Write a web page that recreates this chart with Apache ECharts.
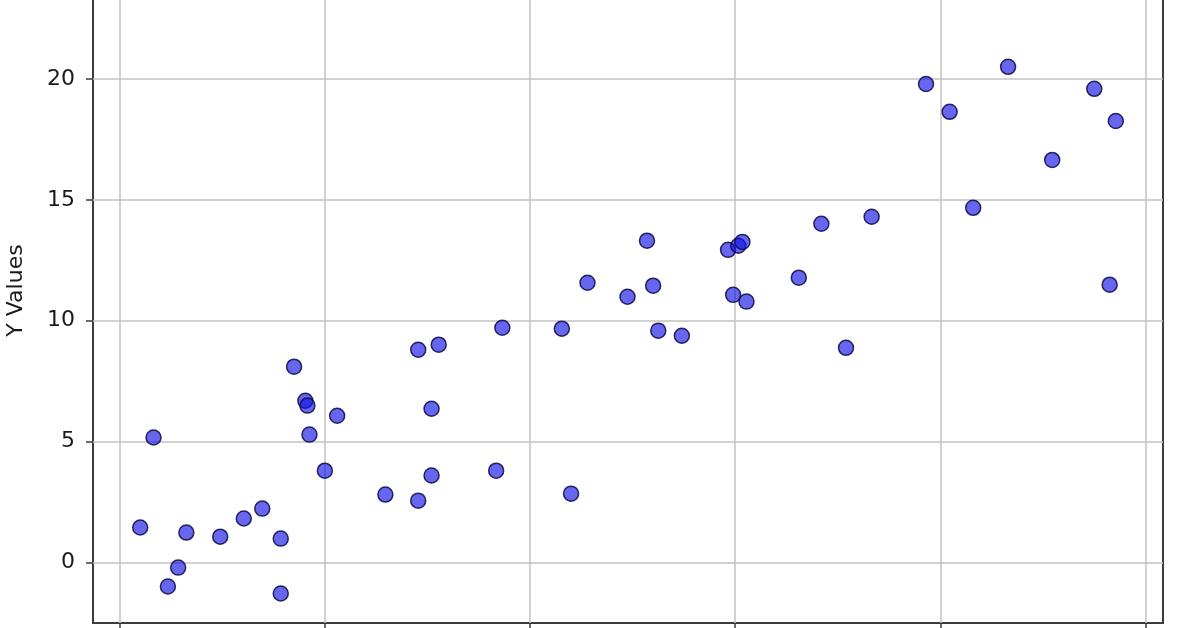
<!DOCTYPE html>
<html>
<head>
<meta charset="utf-8">
<script src="https://cdn.jsdelivr.net/npm/echarts@6/dist/echarts.min.js"></script>
<style>
  html, body { margin: 0; padding: 0; background: #fff; }
  #chart { width: 1196px; height: 628px; }
</style>
</head>
<body>
<div id="chart"></div>
<script>
// datos (x, y)
const xValues = [
  0.20, 0.33, 0.47, 0.57, 0.65, 0.98, 1.21, 1.39, 1.57, 1.57,
  1.70, 1.81, 1.83, 1.85, 2.00, 2.12, 2.59, 2.91, 2.91, 3.04,
  3.04, 3.11, 3.67, 3.73, 4.31, 4.40, 4.56, 4.95, 5.14, 5.20,
  5.25, 5.48, 5.93, 5.98, 6.03, 6.07, 6.11, 6.62, 6.84, 7.08,
  7.33, 7.86, 8.09, 8.32, 8.66, 9.09, 9.50, 9.65, 9.71
];
const yValues = [
  1.45, 5.17, -0.99, -0.21, 1.24, 1.07, 1.82, 2.23, 0.99, -1.28,
  8.10, 6.69, 6.49, 5.29, 3.80, 6.07, 2.81, 8.80, 2.56, 6.36,
  3.60, 9.01, 3.80, 9.71, 9.67, 2.85, 11.57, 10.99, 13.31, 11.45,
  9.59, 9.38, 12.93, 11.07, 13.10, 13.26, 10.79, 11.78, 14.01, 8.88,
  14.30, 19.79, 18.64, 14.67, 20.50, 16.65, 19.59, 11.49, 18.26
];
const xTicks = [0, 2, 4, 6, 8, 10];
const yTicks = [0, 5, 10, 15, 20];

const points = xValues.map((x, i) => [x, yValues[i]]);

const chart = echarts.init(document.getElementById("chart"));

const font = "DejaVu Sans";
const tickStyle = { color: "#3c3c3c", width: 1.5 };
const gridLine = { lineStyle: { color: "#c2c2c2", width: 1.5 } };

chart.setOption({
  animation: false,
  grid: {
    left: 93,
    right: 33,
    top: -42,
    bottom: 5,
    outerBoundsMode: "none",
    show: true,
    borderColor: "#3c3c3c",
    borderWidth: 2,
  },
  xAxis: {
    type: "value",
    min: -0.26,
    max: 10.17,
    name: "X Values",
    nameLocation: "middle",
    nameGap: 44,
    nameTextStyle: { fontFamily: font, fontSize: 22, color: "#1a1a1a" },
    axisLine: { show: false, onZero: false },
    axisTick: { customValues: xTicks, length: 7, lineStyle: tickStyle },
    axisLabel: {
      customValues: xTicks,
      margin: 14,
      fontFamily: font,
      fontSize: 22,
      color: "#1a1a1a",
    },
    splitLine: gridLine,
  },
  yAxis: {
    type: "value",
    min: -2.5,
    max: 25,
    name: "Y Values",
    nameLocation: "middle",
    nameRotate: 90,
    nameGap: 66,
    nameTextStyle: { fontFamily: font, fontSize: 22, color: "#1a1a1a" },
    axisLine: { show: false, onZero: false },
    axisTick: { customValues: yTicks, length: 7, lineStyle: tickStyle },
    axisLabel: {
      customValues: yTicks,
      margin: 18,
      fontFamily: font,
      fontSize: 22,
      color: "#1a1a1a",
    },
    splitLine: gridLine,
  },
  series: [
    {
      type: "scatter",
      data: points,
      symbolSize: 15,
      itemStyle: {
        color: "rgba(20, 20, 230, 0.65)",
        borderColor: "rgba(10, 10, 70, 0.85)",
        borderWidth: 1.5,
        opacity: 1,
      },
    },
  ],
});
</script>
</body>
</html>
